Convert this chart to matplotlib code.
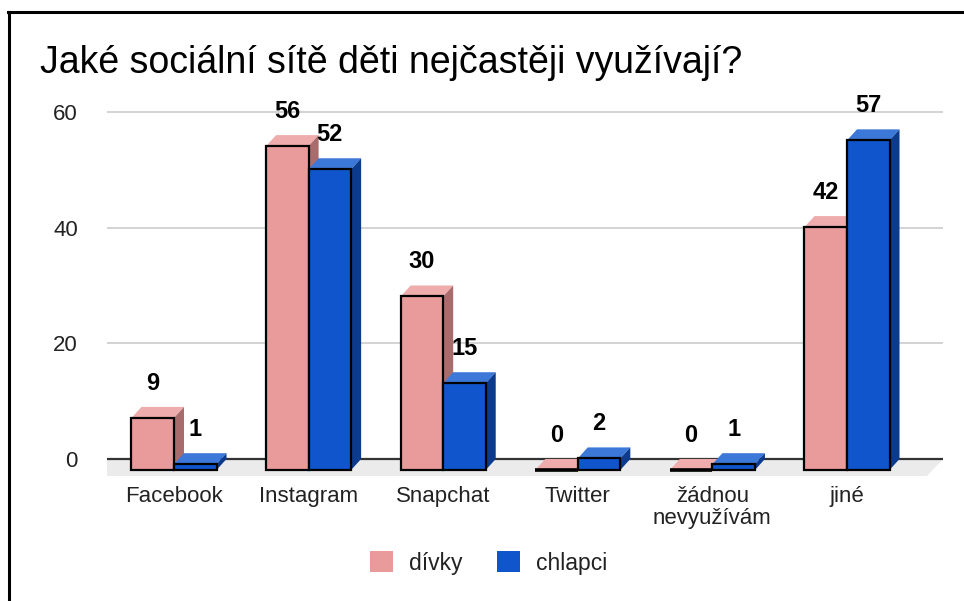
import matplotlib
matplotlib.use("Agg")
import matplotlib.pyplot as plt
from matplotlib.patches import Polygon
from matplotlib.lines import Line2D
import numpy as np

plt.rcParams['font.family'] = ['Liberation Sans', 'DejaVu Sans']

categories = ['Facebook', 'Instagram', 'Snapchat', 'Twitter', 'žádnou\nnevyužívám', 'jiné']
divky = [9, 56, 30, 0, 0, 42]
chlapci = [1, 52, 15, 2, 1, 57]
series_names = ['dívky', 'chlapci']
yticks = [0, 20, 40, 60]
title = 'Jaké sociální sítě děti nejčastěji využívají?'

# colours: front, top, side
pink = ('#e99a9a', '#eeacac', '#a86c6c')
blue = ('#1155cc', '#3c78d8', '#0c3a8c')

W, H = 964, 601
fig = plt.figure(figsize=(W / 100, H / 100), dpi=100)

# axes in pixel geometry (back plane of the 3d look)
ax_l, ax_r = 107, 943
ax_top, ax_bot = 77.3, 482.1
ax = fig.add_axes([ax_l / W, (H - ax_bot) / H, (ax_r - ax_l) / W, (ax_bot - ax_top) / H])
ax.set_xlim(-0.572, 5.639)
ax.set_ylim(-4, 66)
for s in ax.spines.values():
    s.set_visible(False)

# depth offset (pixels) converted to data units
def px_to_data(dx, dy):
    p0 = ax.transData.transform((0, 0))
    p1 = ax.transData.inverted().transform((p0[0] + dx, p0[1] + dy))
    return p1[0], p1[1]

ddx, ddy = px_to_data(10, 11)
fdx, fdy = px_to_data(16, 17)

# floor
x0, x1 = ax.get_xlim()
ax.add_patch(Polygon([(x0, 0), (x1, 0), (x1 - fdx, -fdy), (x0 - fdx, -fdy)],
                     closed=True, facecolor='#ebebeb', edgecolor='none', zorder=0))

# gridlines
for t in yticks:
    if t == 0:
        ax.axhline(t, color='#333333', lw=1.6, zorder=1)
    else:
        ax.axhline(t, color='#cccccc', lw=1.2, zorder=1)

x = np.arange(len(categories))
w = 0.316
z = 2
for vals, cols, off in [(divky, pink, -w / 2), (chlapci, blue, w / 2)]:
    for i, v in enumerate(vals):
        xl = x[i] + off - w / 2 - ddx
        xr = xl + w
        # front face
        ax.bar(xl + w / 2, v, width=w, bottom=-ddy, color=cols[0],
               edgecolor='black', linewidth=1.6, zorder=z + 2)
        if v == 0:
            ax.plot([xl, xr], [-ddy, -ddy], color='black', lw=2.6,
                    solid_capstyle='butt', zorder=z + 2)
        # top face
        ax.add_patch(Polygon([(xl, v - ddy), (xr, v - ddy), (xr + ddx, v), (xl + ddx, v)],
                             closed=True, facecolor=cols[1], edgecolor='none', zorder=z))
        # side face
        ax.add_patch(Polygon([(xr, -ddy), (xr, v - ddy), (xr + ddx, v), (xr + ddx, 0)],
                             closed=True, facecolor=cols[2], edgecolor='none', zorder=z + 1))
        ax.annotate(str(v), (xl + w / 2, v), xytext=(0, 17), textcoords='offset points',
                    ha='center', va='center', fontsize=17, fontweight='bold', zorder=10)
        z += 3

ax.set_yticks(yticks)
ax.set_yticklabels([str(t) for t in yticks], fontsize=16, color='#222222')
ax.tick_params(axis='y', length=0, pad=21)
ax.set_xticks(x - ddx)
ax.set_xticklabels(categories, fontsize=16, color='#222222', linespacing=1.05)
ax.tick_params(axis='x', length=0, pad=3)

fig.text(40 / W, (H - 63) / H, title, fontsize=27, ha='left', va='center', color='black')

handles = [plt.Rectangle((0, 0), 1, 1, facecolor=pink[0], edgecolor='none'),
           plt.Rectangle((0, 0), 1, 1, facecolor=blue[0], edgecolor='none')]
leg = fig.legend(handles, series_names, loc='center', bbox_to_anchor=(489 / W, (H - 563) / H),
                 ncol=2, frameon=False, fontsize=16.5, handlelength=1.0, handleheight=1.0,
                 handletextpad=0.7, columnspacing=1.5)
for t in leg.get_texts():
    t.set_color('#222222')

# outer frame lines
fig.add_artist(Line2D([9 / W, 9 / W], [0, (H - 12) / H], color='black', lw=2.2,
                      transform=fig.transFigure))
fig.add_artist(Line2D([8 / W, 1], [(H - 12) / H, (H - 12) / H], color='black', lw=2.2,
                      transform=fig.transFigure))

fig.savefig('out.png', dpi=100)
